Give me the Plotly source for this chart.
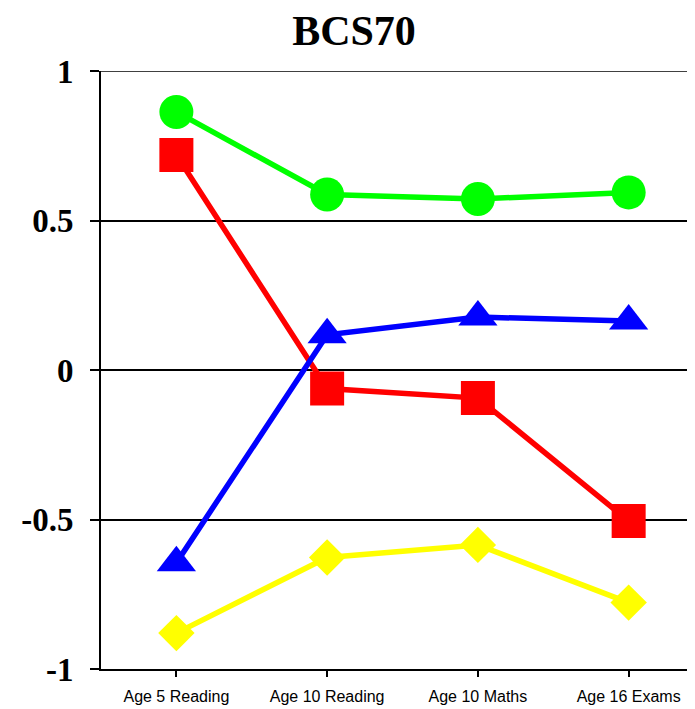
import plotly.graph_objects as go

categories = ["Age 5 Reading", "Age 10 Reading", "Age 10 Maths", "Age 16 Exams"]
green_vals = [0.863, 0.587, 0.572, 0.594]
red_vals = [0.719, -0.062, -0.094, -0.505]
blue_vals = [-0.645, 0.118, 0.177, 0.164]
yellow_vals = [-0.88, -0.627, -0.585, -0.778]
y_ticks = [-1, -0.5, 0, 0.5, 1]
y_ticktext = ["-1", "-0.5", "0", "0.5", "1"]

x = list(range(len(categories)))

fig = go.Figure()
series = [
    (green_vals, "#00FF00", "circle", 34),
    (red_vals, "#FF0000", "square", 34),
    (blue_vals, "#0000FF", "triangle-up", 34),
    (yellow_vals, "#FFFF00", "diamond", 28),
]
for vals, col, sym, sz in series:
    fig.add_trace(go.Scatter(
        x=x, y=vals, mode="lines+markers",
        line=dict(color=col, width=5.5),
        marker=dict(symbol=sym, size=sz, color=col, line=dict(width=0)),
        showlegend=False, cliponaxis=False,
    ))

# top gridline at y = 1 (plotly drops gridlines at the range edge)
fig.add_shape(type="line", xref="paper", yref="y", x0=0, x1=1, y0=1, y1=1,
              line=dict(color="black", width=1.5), layer="below")

W, H = 687, 701  # page body has an 8px margin
fig.update_layout(
    width=W, height=H,
    margin=dict(l=93, r=0, t=63, b=40),
    paper_bgcolor="white", plot_bgcolor="white",
    title=dict(text="BCS70", xref="container", x=346 / W, xanchor="center",
               yref="container", y=1 - 22 / H, yanchor="middle",
               font=dict(family="Liberation Serif", size=42, color="black", weight="bold")),
)
fig.update_xaxes(
    range=[-0.5, 3.44], tickmode="array", tickvals=x, ticktext=categories,
    tickson="boundaries", ticks="outside", ticklen=6, tickwidth=1.5, tickcolor="black",
    showline=True, linecolor="black", linewidth=2, showgrid=False, zeroline=False,
    automargin=False, ticklabelstandoff=6,
    tickfont=dict(family="Liberation Sans", size=16, color="black"),
)
fig.update_yaxes(
    range=[-1, 1], tickmode="array", tickvals=y_ticks, ticktext=y_ticktext,
    ticks="outside", ticklen=9, tickwidth=1.5, tickcolor="black",
    showline=True, linecolor="black", linewidth=2,
    showgrid=True, gridcolor="black", gridwidth=1.5,
    zeroline=True, zerolinecolor="black", zerolinewidth=1.5,
    ticklabelstandoff=10, automargin=False,
    tickfont=dict(family="Liberation Serif", size=33, color="black", weight="bold"),
)

fig.write_html("out.html")
